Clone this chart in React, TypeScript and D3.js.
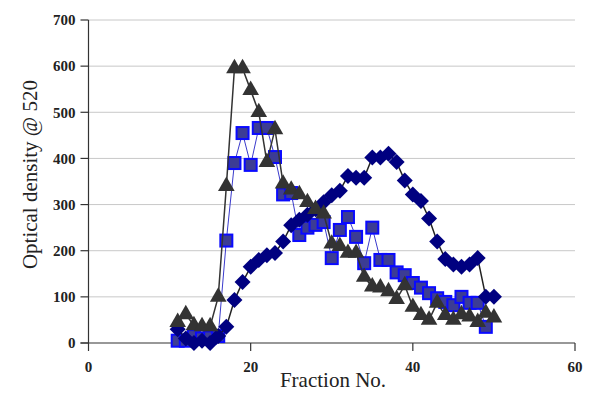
import * as d3 from 'd3';

const fractions = d3.range(11, 51);

const triangleValues = [
  45, 62, 38, 36, 36, 100, 340, 595, 595, 548,
  500, 392, 463, 345, 332, 322, 305, 290, 280, 215,
  210, 195, 195, 143, 122, 120, 112, 95, 125, 78,
  60, 50, 87, 60, 50, 62, 57, 45, 65, 55,
];

const squareValues = [
  5, 5, 15, 10, 12, 15, 222, 390, 455, 386,
  466, 466, 403, 322, 325, 234, 250, 256, 262, 184,
  245, 273, 230, 173, 250, 180, 180, 153, 147, 130,
  120, 108, 97, 89, 82, 100, 87, 87, 35,
];

const diamondValues = [
  30, 10, 0, 5, 0, 15, 35, 93, 132, 165,
  180, 190, 195, 220, 255, 267, 278, 290, 305, 320,
  330, 362, 358, 358, 402, 402, 410, 392, 352, 322,
  308, 270, 220, 182, 170, 165, 170, 184, 100, 100,
];

const xTicks = [0, 20, 40, 60];
const yTicks = [0, 100, 200, 300, 400, 500, 600, 700];

const W = 589;
const H = 393;
const margin = { left: 88.5, right: 14, top: 20, bottom: 50 };

const serif = '"Liberation Serif", "Times New Roman", serif';

type Pt = { x: number; y: number };

const toPts = (vals: number[]): Pt[] => vals.map((v, i) => ({ x: fractions[i], y: v }));

export default function App() {
  const x = d3.scaleLinear().domain([0, 60]).range([margin.left, W - margin.right]);
  const y = d3.scaleLinear().domain([0, 700]).range([H - margin.bottom, margin.top]);

  const line = d3.line<Pt>().x(d => x(d.x)).y(d => y(d.y));

  const tri = toPts(triangleValues);
  const sq = toPts(squareValues);
  const dia = toPts(diamondValues);

  // triangle markers a bit larger than the default symbol
  const triPath = d3.symbol().type(d3.symbolTriangle).size(120)()!;
  const s = 6;
  const dd = 8;

  return (
    <div style={{ position: 'absolute', left: 0, top: 0 }}>
      <svg width={W} height={H} style={{ display: 'block', background: '#fff' }}>
        {/* grid */}
        {yTicks.slice(1).map(t => (
          <line key={t} x1={x(0)} x2={x(60)} y1={y(t)} y2={y(t)} stroke="#c8c8c8" strokeWidth={1} />
        ))}

        {/* axes */}
        <line x1={x(0)} x2={x(0)} y1={y(0)} y2={y(700)} stroke="#333" strokeWidth={1.2} />
        <line x1={x(0) - 8} x2={x(60)} y1={y(0)} y2={y(0)} stroke="#333" strokeWidth={1.2} />
        {yTicks.map(t => (
          <g key={t}>
            <line x1={x(0) - 8} x2={x(0)} y1={y(t)} y2={y(t)} stroke="#333" strokeWidth={1.2} />
            <text x={x(0) - 13} y={y(t)} dy="0.35em" textAnchor="end" fontFamily={serif}
              fontWeight="bold" fontSize={15} fill="#222">{t}</text>
          </g>
        ))}
        {xTicks.map(t => (
          <g key={t}>
            <line x1={x(t)} x2={x(t)} y1={y(0)} y2={y(0) + 8} stroke="#333" strokeWidth={1.2} />
            <text x={x(t)} y={y(0) + 29} textAnchor="middle" fontFamily={serif}
              fontWeight="bold" fontSize={15} fill="#222">{t}</text>
          </g>
        ))}

        <text x={333} y={387} textAnchor="middle" fontFamily={serif} fontSize={21} fill="#222">Fraction No.</text>
        <text transform={`translate(37,${y(365)}) rotate(-90)`} textAnchor="middle" fontFamily={serif}
          fontSize={21} fill="#222">Optical density @ 520</text>

        {/* squares */}
        <path d={line(sq)!} fill="none" stroke="#3a3acc" strokeWidth={1} />
        {sq.map((d, i) => (
          <rect key={i} x={x(d.x) - s} y={y(d.y) - s} width={s * 2} height={s * 2}
            fill="#3c3c94" stroke="#0a0aff" strokeWidth={2} />
        ))}

        {/* diamonds */}
        <path d={line(dia)!} fill="none" stroke="#222" strokeWidth={1.5} />
        {dia.map((d, i) => (
          <path key={i} transform={`translate(${x(d.x)},${y(d.y)})`}
            d={`M0,${-dd}L${dd},0L0,${dd}L${-dd},0Z`} fill="#000080" />
        ))}

        {/* triangles */}
        <path d={line(tri)!} fill="none" stroke="#333" strokeWidth={1.5} />
        {tri.map((d, i) => (
          <path key={i} transform={`translate(${x(d.x)},${y(d.y)})`} d={triPath} fill="#333" />
        ))}
      </svg>
    </div>
  );
}
